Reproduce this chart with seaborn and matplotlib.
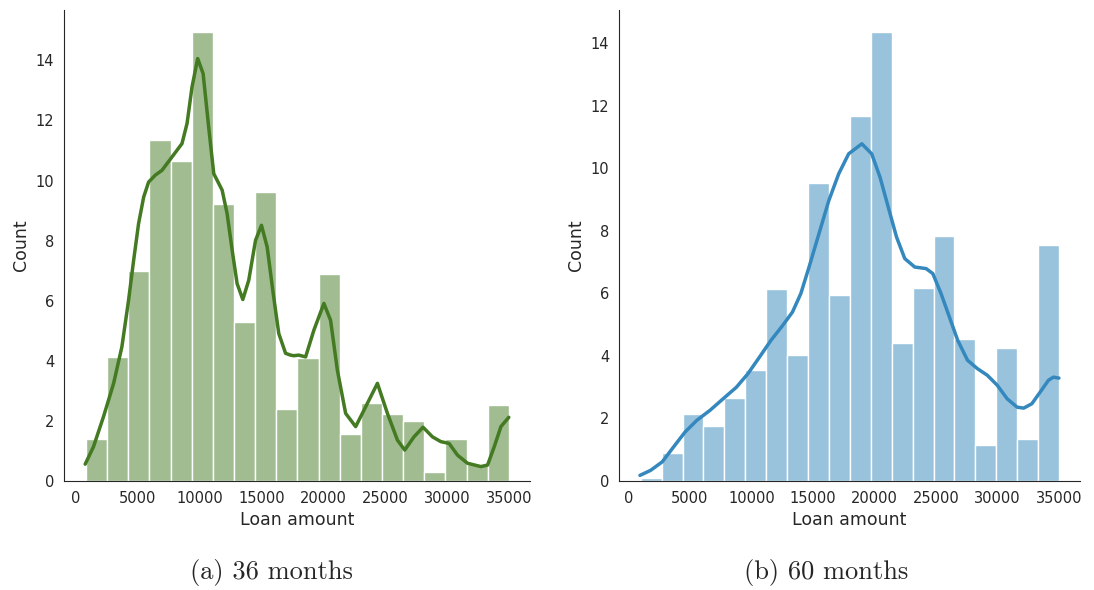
import numpy as np
import pandas as pd
import seaborn as sns
import matplotlib.pyplot as plt

# ---------------- data ----------------
range_36 = (800, 35000)
counts_36 = [1.4, 4.13, 7.0, 11.36, 10.66, 14.93, 9.23, 5.30, 9.61, 2.40,
             4.09, 6.88, 1.57, 2.58, 2.24, 2.0, 0.31, 1.40, 0.55, 2.53]
kde_x_36 = [729, 1400, 2210, 3030, 3700, 4240, 4650, 5050, 5460, 5860, 6400,
            6940, 7560, 8160, 8560, 8970, 9370, 9830, 10270, 10720, 11130,
            11810, 12210, 12620, 13020, 13480, 13960, 14510, 14990, 15450,
            15940, 16390, 16940, 17340, 17610, 18010, 18560, 19230, 20040,
            20580, 21130, 21800, 22610, 23420, 24370, 25180, 25990, 26580,
            27330, 28060, 28820, 29500, 30170, 30850, 31660, 32740, 33280,
            33820, 34360, 35000]
kde_y_36 = [0.56, 1.14, 2.14, 3.25, 4.47, 6.02, 7.35, 8.57, 9.45, 9.95, 10.18,
            10.34, 10.68, 11.01, 11.23, 11.90, 13.11, 14.06, 13.56, 11.78, 10.23,
            9.68, 8.90, 7.68, 6.57, 6.04, 6.68, 8.01, 8.51, 7.79,
            6.24, 4.91, 4.25, 4.19, 4.17, 4.19, 4.13, 5.02, 5.91,
            5.35, 3.69, 2.25, 1.81, 2.47, 3.25, 2.25, 1.36, 1.03,
            1.47, 1.79, 1.47, 1.31, 1.25, 0.86, 0.59, 0.48, 0.53,
            1.14, 1.81, 2.12]

range_60 = (1000, 35000)
counts_60 = [0.11, 0.90, 2.15, 1.75, 2.65, 3.56, 6.13, 4.02, 9.53, 5.96,
             11.66, 14.34, 4.42, 6.18, 7.82, 4.55, 1.16, 4.24, 1.34, 7.55]
kde_x_60 = [935, 1800, 2740, 3670, 4610, 5560, 6630, 7700, 8780, 9710, 10650,
            11590, 12530, 13330, 14010, 14680, 15480, 16290, 17090, 17900,
            18970, 19770, 20450, 21120, 21790, 22460, 23270, 24200, 24740,
            25410, 26090, 26760, 27560, 28370, 29170, 29980, 30780, 31590,
            32130, 32790, 33460, 34140, 34540, 34990]
kde_y_60 = [0.18, 0.34, 0.61, 1.09, 1.57, 1.94, 2.26, 2.63, 3.00, 3.43, 3.96,
            4.50, 4.97, 5.40, 5.99, 6.84, 7.90, 8.97, 9.82, 10.46,
            10.78, 10.46, 9.71, 8.75, 7.80, 7.11, 6.84, 6.79, 6.63,
            5.99, 5.24, 4.50, 3.86, 3.59, 3.38, 3.06, 2.63, 2.36,
            2.33, 2.47, 2.84, 3.22, 3.32, 3.29]

captions = ["(a) 36 months", "(b) 60 months"]
colors = ["#437a22", "#3488bd"]

# ---------------- plot ----------------
sns.set_style("white")
W, H = 1094, 590
fig = plt.figure(figsize=(W / 100, H / 100), dpi=100)

ax_boxes = [(64, 530, 10, 481), (619, 1080, 10, 481)]
caption_x = [271, 826]
panels = [(range_36, counts_36, kde_x_36, kde_y_36),
          (range_60, counts_60, kde_x_60, kde_y_60)]

for (x0, x1, y0, y1), (rng, counts, kx, ky), color, cap, cx in zip(
        ax_boxes, panels, colors, captions, caption_x):
    ax = fig.add_axes([x0 / W, (H - y1) / H, (x1 - x0) / W, (y1 - y0) / H])
    nb = len(counts)
    edges = np.linspace(rng[0], rng[1], nb + 1)
    centers = (edges[:-1] + edges[1:]) / 2
    df = pd.DataFrame({"Loan amount": centers, "w": counts})
    sns.histplot(data=df, x="Loan amount", weights="w", bins=nb, binrange=rng,
                 color=color, alpha=0.5, edgecolor="white", linewidth=1, ax=ax)
    kdf = pd.DataFrame({"x": kx, "y": ky})
    sns.lineplot(data=kdf, x="x", y="y", color=color, linewidth=2.5, ax=ax)
    ax.set_xlabel("Loan amount", fontsize=12.5)
    ax.set_ylabel("Count", fontsize=12.5)
    ax.set_xticks(range(0, 35001, 5000))
    ax.tick_params(labelsize=10.5)
    sns.despine(ax=ax)
    fig.text(cx / W, 1 - 573 / H, cap, family="cmr10",
             fontsize=19, ha="center", va="center")

fig.savefig("out.png", dpi=100)
